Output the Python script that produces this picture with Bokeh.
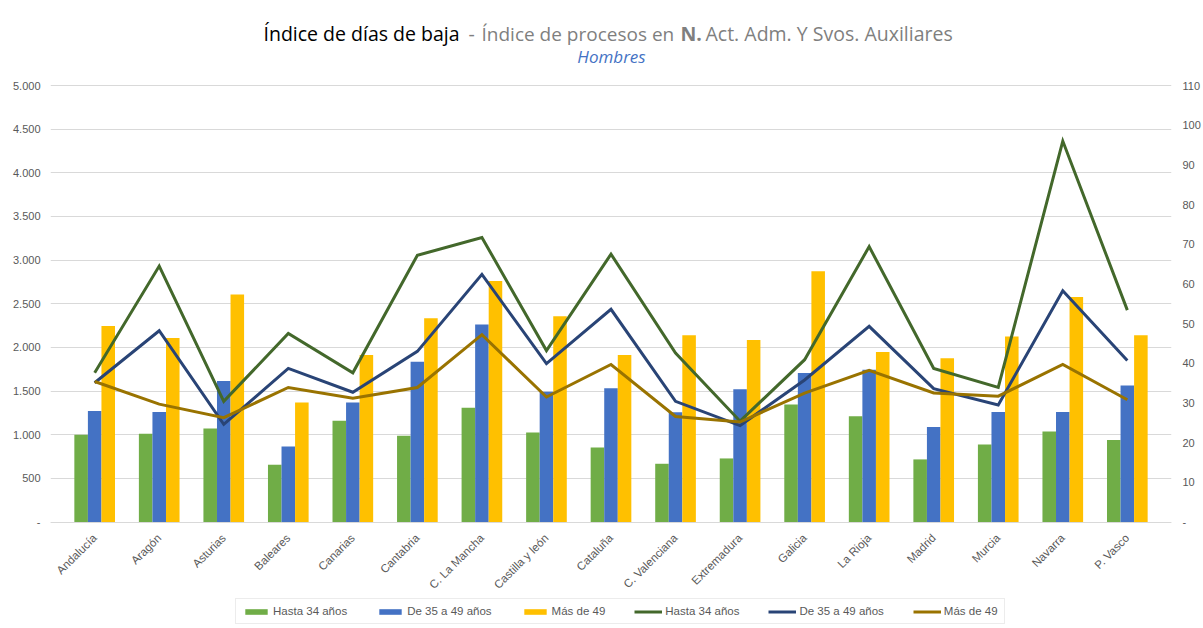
import math
from bokeh.plotting import figure
from bokeh.models import (FactorRange, Range1d, LinearAxis, FixedTicker, Legend,
                          LegendItem, Label, ColumnDataSource)
from bokeh.transform import dodge
from bokeh.embed import file_html
from bokeh.resources import INLINE

# ---------------- data ----------------
regiones = ["Andalucía", "Aragón", "Asturias", "Baleares", "Canarias", "Cantabria",
            "C. La Mancha", "Castilla y león", "Cataluña", "C. Valenciana", "Extremadura",
            "Galicia", "La Rioja", "Madrid", "Murcia", "Navarra", "P. Vasco"]

# Índice de días de baja (bars, left axis)
dias_hasta34 = [1000, 1011, 1072, 656, 1160, 988, 1309, 1026, 854, 667, 728, 1347, 1210, 717, 889, 1038, 938]
dias_35_49 = [1271, 1259, 1615, 866, 1370, 1837, 2261, 1493, 1531, 1256, 1520, 1706, 1745, 1087, 1259, 1259, 1565]
dias_mas49 = [2245, 2108, 2605, 1370, 1913, 2334, 2762, 2357, 1913, 2139, 2085, 2873, 1947, 1875, 2124, 2578, 2139]

# Índice de procesos (lines, right axis)
proc_hasta34 = [37.6, 64.5, 30.4, 47.5, 37.6, 67.2, 71.7, 43.2, 67.5, 42.6, 25.4, 40.9, 69.4, 38.7, 33.9, 96.0, 53.4]
proc_35_49 = [35.1, 48.2, 24.6, 38.7, 32.7, 43.0, 62.4, 39.9, 53.6, 30.4, 24.3, 35.8, 49.3, 33.6, 29.5, 58.3, 40.7]
proc_mas49 = [35.4, 29.7, 26.3, 33.9, 31.2, 33.9, 47.2, 31.5, 39.7, 26.6, 25.2, 32.5, 38.2, 32.5, 31.7, 39.7, 30.8]

series_names = ["Hasta 34 años", "De 35 a 49 años", "Más de 49"]
left_ticks = list(range(0, 5001, 500))
right_ticks = list(range(0, 111, 10))
left_max, right_max = 5000, 110

# ---------------- layout / styles ----------------
W, H = 1203, 628
CAT_L, CAT_R = 62, 1168    # pixel span of the 17 categories
FL, FR = 50, 1180          # frame left / right (px), a little wider so labels are not clipped
FT, FB = 10, 628           # frame top / bottom (px) - frame hosts title & legend
AX_TOP, AX_ZERO = 85, 521.5  # px rows of top tick and zero
bar_colors = ["#70AD47", "#4472C4", "#FFC000"]
line_colors = ["#43682B", "#294476", "#997300"]
label_color = "#595959"
grid_color = "#D9D9D9"
tick_font = "Liberation Sans"

cat_px = (CAT_R - CAT_L) / len(regiones)
pad_side = ((FR - FL) / cat_px - len(regiones)) / 2   # per side, in category units


def ext_range(vmax):
    per_px = vmax / (AX_ZERO - AX_TOP)
    return Range1d(-(FB - AX_ZERO) * per_px, vmax + (AX_TOP - FT) * per_px)


def es_fmt(v):
    if v == 0:
        return "-"
    return f"{v:,}".replace(",", ".")


src = ColumnDataSource(dict(x=regiones, b1=dias_hasta34, b2=dias_35_49, b3=dias_mas49,
                            l1=proc_hasta34, l2=proc_35_49, l3=proc_mas49))

xr = FactorRange(*regiones, range_padding=pad_side, range_padding_units="absolute")
p = figure(width=W, height=H, x_range=xr, y_range=ext_range(left_max),
           output_backend="svg", toolbar_location=None, min_border_left=FL,
           min_border_right=W - FR, min_border_top=FT, min_border_bottom=H - FB)
p.extra_y_ranges = {"right": ext_range(right_max)}
p.outline_line_color = None
p.background_fill_color = "white"
p.border_fill_color = "white"

bw = 0.21
bars = []
for i, (col, c) in enumerate(zip(["b1", "b2", "b3"], bar_colors)):
    r = p.vbar(x=dodge("x", (i - 1) * bw, range=p.x_range), top=col, width=bw,
               source=src, fill_color=c, line_color=None)
    bars.append(r)

lines = []
for col, c in zip(["l1", "l2", "l3"], line_colors):
    r = p.line(x="x", y=col, source=src, line_color=c, line_width=3,
               y_range_name="right", line_join="miter")
    lines.append(r)

# axes
xa = p.xaxis[0]
xa.fixed_location = 0
xa.axis_line_color = grid_color
xa.major_tick_line_color = None
xa.minor_tick_line_color = None
xa.major_label_orientation = math.pi / 4
xa.major_label_text_font = tick_font
xa.major_label_text_font_size = "11.5px"
xa.major_label_text_color = label_color
xa.major_label_standoff = 8

yl = p.yaxis[0]
yl.ticker = FixedTicker(ticks=left_ticks)
yl.major_label_overrides = {t: es_fmt(t) for t in left_ticks}
yl.axis_line_color = None
yl.major_tick_line_color = None
yl.minor_tick_line_color = None
yl.major_label_text_font = tick_font
yl.major_label_text_font_size = "11px"
yl.major_label_text_color = label_color
yl.major_label_standoff = 4

yr = LinearAxis(y_range_name="right", ticker=FixedTicker(ticks=right_ticks))
yr.major_label_overrides = {t: es_fmt(t) for t in right_ticks}
yr.axis_line_color = None
yr.major_tick_line_color = None
yr.minor_tick_line_color = None
yr.major_label_text_font = tick_font
yr.major_label_text_font_size = "11px"
yr.major_label_text_color = label_color
yr.major_label_standoff = 5
p.add_layout(yr, "right")

p.xgrid.grid_line_color = None
p.ygrid.ticker = FixedTicker(ticks=left_ticks)
p.ygrid.grid_line_color = grid_color

# legend (frame-relative screen px, bottom-left corner)
items = [LegendItem(label=n, renderers=[r]) for n, r in zip(series_names, bars)]
items += [LegendItem(label=n, renderers=[r]) for n, r in zip(series_names, lines)]
leg = Legend(items=items, orientation="horizontal", location=(235 - FL, FB - 624),
             glyph_width=28, glyph_height=7, label_height=11, label_standoff=3,
             spacing=29, padding=6, margin=0,
             label_text_font=tick_font, label_text_font_size="11.5px",
             label_text_color=label_color, border_line_color=grid_color,
             background_fill_alpha=1)
p.add_layout(leg, "center")

# title (segments), frame-relative screen px
title_font = "Open Sans"
segs = [
    (263, "Índice de días de baja", "#000000", "normal", "19.5px"),
    (468, "-", "#7F7F7F", "normal", "19.5px"),
    (481, "Índice de procesos en", "#7F7F7F", "normal", "19px"),
    (680, "N.", "#7F7F7F", "bold", "19.5px"),
    (705, "Act. Adm. Y Svos. Auxiliares", "#7F7F7F", "normal", "19.5px"),
]
for x, t, c, st, fs in segs:
    p.add_layout(Label(x=x - FL, y=FB - 33, x_units="screen", y_units="screen", text=t,
                       text_font=title_font, text_font_size=fs, text_color=c,
                       text_font_style=st, text_baseline="middle", text_align="left"))
p.add_layout(Label(x=611 - FL, y=FB - 56, x_units="screen", y_units="screen",
                   text="Hombres", text_font=title_font, text_font_size="17px",
                   text_color="#4472C4", text_font_style="italic",
                   text_baseline="middle", text_align="center"))

open("out.html", "w").write(file_html(p, INLINE))
